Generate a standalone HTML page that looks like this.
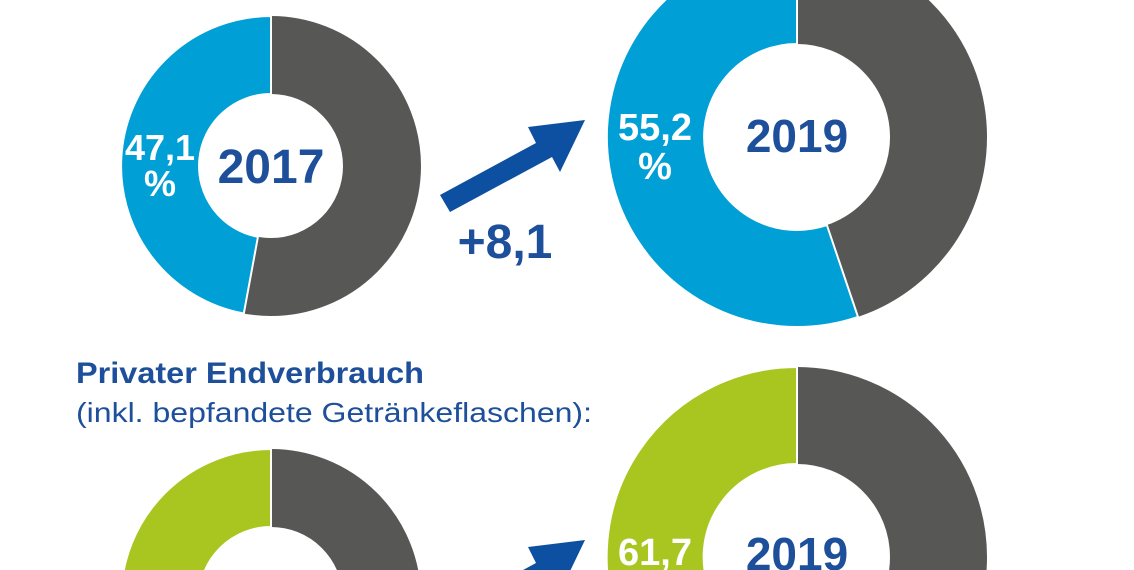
<!DOCTYPE html>
<html><head><meta charset="utf-8"><style>html,body{margin:0;padding:0;background:#fff;overflow:hidden;width:1134px;height:570px}svg{display:block}</style></head>
<body>
<svg width="1134" height="570" viewBox="0 0 1134 570" xmlns="http://www.w3.org/2000/svg" font-family="Liberation Sans, sans-serif" overflow="hidden">
<circle cx="271" cy="166" r="111" fill="none" stroke="#575756" stroke-width="78"/>
<path d="M271,16 A150,150 0 0 0 243.8,313.5 L257.95,236.8 A72,72 0 0 1 271,94 Z" fill="#009fd6" stroke="#fff" stroke-width="2"/>
<text x="160" y="160" fill="#fff" font-size="36" font-weight="bold" text-anchor="middle">47,1</text>
<text x="160" y="196" fill="#fff" font-size="36" font-weight="bold" text-anchor="middle">%</text>
<text x="271" y="183" fill="#1d4f9a" font-size="48" font-weight="bold" text-anchor="middle">2017</text>
<circle cx="797" cy="137" r="141.5" fill="none" stroke="#575756" stroke-width="97"/>
<path d="M797,-53 A190,190 0 1 0 858,316.9 L826.9,225.1 A93,93 0 1 1 797,44 Z" fill="#009fd6" stroke="#fff" stroke-width="2"/>
<text x="655" y="140" fill="#fff" font-size="38" font-weight="bold" text-anchor="middle">55,2</text>
<text x="655" y="179" fill="#fff" font-size="38" font-weight="bold" text-anchor="middle">%</text>
<text x="797" y="152" fill="#1d4f9a" font-size="46" font-weight="bold" text-anchor="middle">2019</text>
<g id="arr" fill="#0d4fa0">
<polygon points="440,195 536,143 528,127 585,120 560,172 552,157 450,212"/>
</g>
<use href="#arr" transform="translate(0,420)"/>
<text x="505" y="258" fill="#1d4f9a" font-size="48" font-weight="bold" text-anchor="middle">+8,1</text>
<text x="76" y="383" fill="#1d4f9a" font-size="30" font-weight="bold" textLength="348" lengthAdjust="spacingAndGlyphs">Privater Endverbrauch</text>
<text x="76" y="422" fill="#1d4f9a" font-size="28" textLength="516" lengthAdjust="spacingAndGlyphs">(inkl. bepfandete Getränkeflaschen):</text>
<circle cx="271" cy="599" r="111" fill="none" stroke="#575756" stroke-width="78"/>
<path d="M271,449 A150,150 0 0 0 271,749 L271,671 A72,72 0 0 1 271,527 Z" fill="#a9c520" stroke="#fff" stroke-width="2"/>
<circle cx="797" cy="557" r="141.5" fill="none" stroke="#575756" stroke-width="97"/>
<path d="M797,367 A190,190 0 1 0 924,698 L859,626 A93,93 0 1 1 797,464 Z" fill="#a9c520" stroke="#fff" stroke-width="2"/>
<text x="655" y="565" fill="#fff" font-size="38" font-weight="bold" text-anchor="middle">61,7</text>
<text x="797" y="570" fill="#1d4f9a" font-size="46" font-weight="bold" text-anchor="middle">2019</text>
</svg>
</body></html>
